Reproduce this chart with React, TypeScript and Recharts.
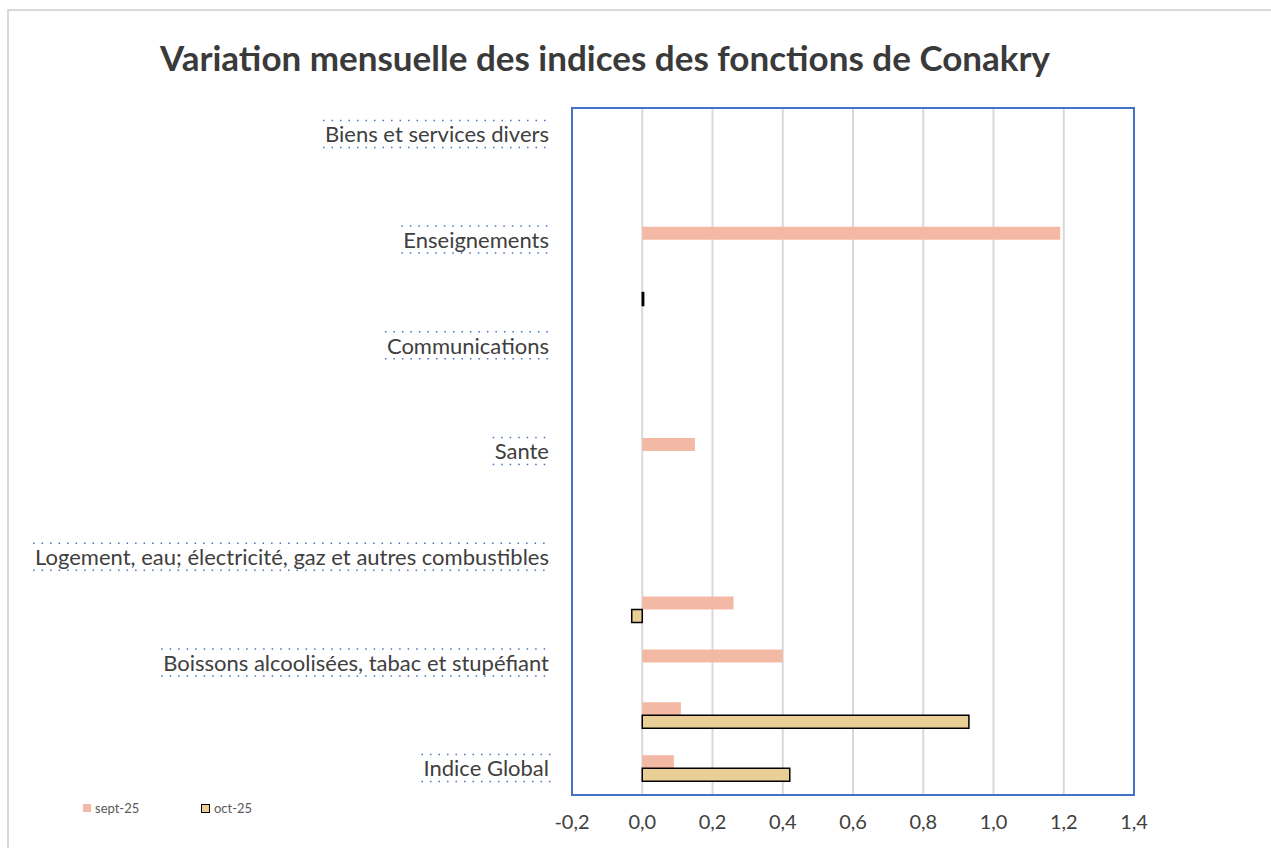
import { BarChart, Bar, XAxis, YAxis, CartesianGrid, ReferenceArea, Legend } from 'recharts'

const categories = [
  'Indice Global',
  'Produits alimentaires et boissons non alcoolisées',
  'Boissons alcoolisées, tabac et stupéfiant',
  "Articles d'habillement et chaussures",
  'Logement, eau; électricité, gaz et autres combustibles',
  'Meubles, articles de ménage et entretien courant',
  'Sante',
  'Transports',
  'Communications',
  'Loisirs et culture',
  'Enseignements',
  'Restaurants et hôtels',
  'Biens et services divers',
]
const sept25 = [0.09, 0.11, 0.4, 0.26, 0, 0, 0.15, 0, 0, 0, 1.19, 0, 0]
const oct25 = [0.42, 0.93, 0, -0.03, 0, 0, 0, 0, 0, 0.004, 0, 0, 0]
const xTicks = [-0.2, 0, 0.2, 0.4, 0.6, 0.8, 1.0, 1.2, 1.4]
const seriesOrder = ['sept', 'oct']

const data = categories.map((name, i) => ({ name, sept: sept25[i], oct: oct25[i] }))

const FONT = 'Lato, "Liberation Sans", sans-serif'
const LABEL_SIZE = 22
const TEXT = '#404040'
const BLUE = '#4472C4'

let ctx: CanvasRenderingContext2D | null = null
function textWidth(s: string) {
  if (!ctx) ctx = document.createElement('canvas').getContext('2d')
  if (!ctx) return s.length * 10
  ctx.font = `${LABEL_SIZE}px ${FONT}`
  return ctx.measureText(s).width
}

function CategoryTick(props: any) {
  const { x, y, payload } = props
  const w = textWidth(payload.value)
  return (
    <g>
      <line x1={x - w - 2} x2={x + 2} y1={y - 14} y2={y - 14} stroke={BLUE} strokeWidth={1.5} strokeDasharray="1.5 7" />
      <line x1={x - w - 2} x2={x + 2} y1={y + 13} y2={y + 13} stroke={BLUE} strokeWidth={1.5} strokeDasharray="1.5 7" />
      <text x={x} y={y} dy="0.35em" textAnchor="end" fontFamily={FONT} fontSize={LABEL_SIZE} fill={TEXT}>
        {payload.value}
      </text>
    </g>
  )
}

function LegendContent(props: any) {
  const items = [...(props.payload || [])].sort(
    (a: any, b: any) => seriesOrder.indexOf(a.dataKey) - seriesOrder.indexOf(b.dataKey)
  )
  return (
    <div style={{ display: 'flex', fontFamily: FONT, fontSize: 13, color: '#595959' }}>
      {items.map((it: any) => (
        <div key={it.value} style={{ width: 118, display: 'flex', alignItems: 'center' }}>
          <span
            style={{
              display: 'inline-block',
              width: it.dataKey === 'oct' ? 7 : 8,
              height: it.dataKey === 'oct' ? 7 : 8,
              background: it.color,
              border: it.dataKey === 'oct' ? '1.5px solid #000' : 'none',
              marginRight: 4,
            }}
          />
          {it.value}
        </div>
      ))}
    </div>
  )
}

export default function App() {
  return (
    <div style={{ position: 'relative', width: 1271, height: 848, overflow: 'hidden', background: '#fff' }}>
      <style>{'body{margin:0;overflow:hidden}'}</style>
      <div
        style={{
          position: 'absolute',
          left: 7,
          top: 9,
          width: 1280,
          height: 860,
          border: '2px solid #d9d9d9',
        }}
      />
      <div
        style={{
          position: 'absolute',
          left: 0,
          top: 35,
          width: 1210,
          textAlign: 'center',
          fontFamily: FONT,
          fontWeight: 700,
          fontSize: 35,
          lineHeight: '44px',
          color: '#3a3a3a',
        }}
      >
        Variation mensuelle des indices des fonctions de Conakry
      </div>
      <div style={{ position: 'absolute', left: 0, top: 0 }}>
        <BarChart
          width={1271}
          height={848}
          data={data}
          layout="vertical"
          margin={{ top: 108, right: 137, bottom: 0, left: 0 }}
          barGap={0}
          barSize={13}
        >
          <CartesianGrid horizontal={false} stroke="#d9d9d9" strokeWidth={2} />
          <XAxis
            type="number"
            domain={[-0.2, 1.4]}
            ticks={xTicks}
            height={53}
            axisLine={false}
            tickLine={false}
            tickSize={0}
            tickMargin={20}
            interval={0}
            tickFormatter={(v: number) => v.toFixed(1).replace('.', ',')}
            tick={{ fontFamily: FONT, fontSize: 20, fill: TEXT }}
          />
          <YAxis
            type="category"
            dataKey="name"
            reversed
            width={572}
            axisLine={false}
            tickLine={false}
            tickSize={0}
            tickMargin={23}
            interval={1}
            tick={<CategoryTick />}
          />
          <ReferenceArea x1={-0.2} x2={1.4} fill="none" stroke={BLUE} strokeWidth={2} />
          <Bar dataKey="sept" name="sept-25" fill="#F4B9A5" isAnimationActive={false} />
          <Bar dataKey="oct" name="oct-25" fill="#E9CF95" stroke="#000" strokeWidth={1.5} isAnimationActive={false} />
          <Legend
            layout="horizontal"
            verticalAlign="middle"
            content={<LegendContent />}
            wrapperStyle={{ position: 'absolute', left: 83, top: 800, width: 260 }}
          />
        </BarChart>
      </div>
    </div>
  )
}
